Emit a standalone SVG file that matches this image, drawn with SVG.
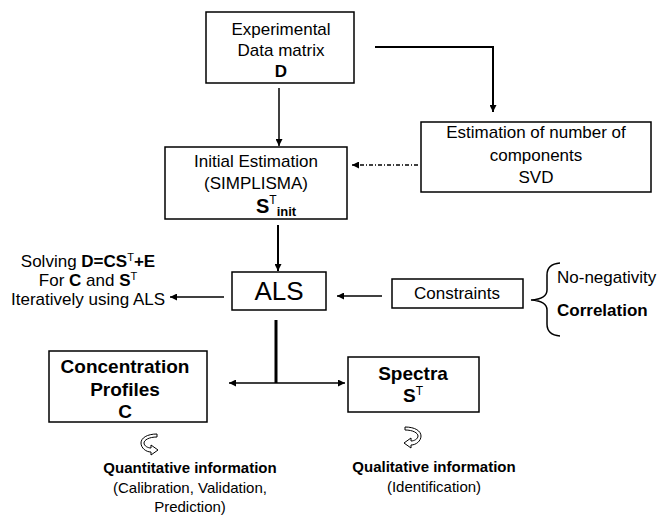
<svg xmlns="http://www.w3.org/2000/svg" width="657" height="516" viewBox="0 0 657 516">
<style>
text{font-family:"Liberation Sans",Arial,sans-serif;font-size:17px;fill:#000;text-anchor:middle}
.b{font-weight:bold}
.l{text-anchor:start}
.box{fill:#fff;stroke:#000;stroke-width:1.5}
.ln{fill:none;stroke:#000;stroke-width:1.5}
.icon{fill:#fff;stroke:#000;stroke-width:1;stroke-linejoin:round}
</style>
<defs>
<marker id="ah" viewBox="0 0 10 10" refX="10" refY="5" markerWidth="8" markerHeight="7" markerUnits="userSpaceOnUse" orient="auto-start-reverse"><path d="M0,0 L10,5 L0,10 Z" fill="#000"/></marker>
<path id="curl" d="M16,0 C6,0 0,4 0,9 C0,14 5,18 10,18 L10,21 L17,16 L10,11 L10,14 C7,14 3,12 3,9 C3,6 8,3 16,3 Z"/>
</defs>
<rect width="657" height="516" fill="#fff"/>

<g id="connectors">
  <line class="ln" x1="279" y1="88" x2="279" y2="146" marker-end="url(#ah)"/>
  <path d="M375,47 H493 V112" fill="none" stroke="#000" stroke-width="2" marker-end="url(#ah)"/>
  <line class="ln" x1="418" y1="165" x2="352" y2="165" stroke-dasharray="4 2 1 2" marker-end="url(#ah)"/>
  <line x1="278" y1="225" x2="278" y2="271" stroke="#000" stroke-width="2" marker-end="url(#ah)"/>
  <line class="ln" x1="224" y1="297" x2="170" y2="297" marker-end="url(#ah)"/>
  <line class="ln" x1="382" y1="296" x2="337" y2="296" marker-end="url(#ah)"/>
  <line x1="276" y1="320" x2="276" y2="383" stroke="#000" stroke-width="3"/>
  <line class="ln" x1="229" y1="383" x2="345" y2="383" marker-start="url(#ah)" marker-end="url(#ah)"/>
</g>

<g id="data-matrix">
  <rect class="box" x="206" y="12" width="148" height="71"/>
  <text x="281" y="35">Experimental</text>
  <text x="281" y="56">Data matrix</text>
  <text x="281" y="77" class="b">D</text>
</g>

<g id="estimation">
  <rect class="box" x="421" y="122" width="230" height="70"/>
  <text x="536" y="138">Estimation of number of</text>
  <text x="536" y="161">components</text>
  <text x="536" y="183">SVD</text>
</g>

<g id="initial">
  <rect class="box" x="165" y="147" width="182" height="72"/>
  <text x="256" y="167">Initial Estimation</text>
  <text x="256" y="189">(SIMPLISMA)</text>
  <text x="256" y="213" class="l" style="font-size:20px;font-weight:bold">S<tspan dy="-9" style="font-size:12px;font-weight:normal">T</tspan><tspan dy="12" style="font-size:13px">init</tspan></text>
</g>

<g id="als">
  <rect class="box" x="232" y="272" width="94" height="38"/>
  <text x="279" y="300" style="font-size:26px">ALS</text>
</g>

<g id="solving">
  <text x="88" y="267">Solving <tspan class="b">D=CS</tspan><tspan dy="-6" style="font-size:11px">T</tspan><tspan dy="6" class="b">+E</tspan></text>
  <text x="88" y="286">For <tspan class="b">C</tspan> and <tspan class="b">S</tspan><tspan dy="-6" style="font-size:11px">T</tspan></text>
  <text x="88" y="305">Iteratively using ALS</text>
</g>

<g id="constraints">
  <rect class="box" x="392" y="279" width="131" height="29"/>
  <text x="457" y="299">Constraints</text>
</g>

<g id="constraint-list">
  <path d="M560,263 Q547,264 547,275 L547,290 Q547,299 531,300 Q547,301 547,310 L547,324 Q547,335 560,336" fill="none" stroke="#000" stroke-width="1.5"/>
  <text x="557" y="283" class="l">No-negativity</text>
  <text x="557" y="316" class="l b">Correlation</text>
</g>

<g id="concentration">
  <rect class="box" x="49" y="351" width="158" height="71"/>
  <text x="125" y="373" class="b" style="font-size:19px">Concentration</text>
  <text x="125" y="396" class="b" style="font-size:19px">Profiles</text>
  <text x="125" y="418" class="b" style="font-size:19px">C</text>
</g>

<g id="spectra">
  <rect class="box" x="348" y="357" width="131" height="55"/>
  <text x="413" y="380" class="b" style="font-size:19px">Spectra</text>
  <text x="413" y="402" class="b" style="font-size:19px">S<tspan dy="-7" style="font-size:12px;font-weight:normal">T</tspan></text>
</g>

<g id="quantitative">
  <use href="#curl" class="icon" transform="translate(141,434)"/>
  <text x="190" y="473" class="b" style="font-size:15px">Quantitative information</text>
  <text x="190" y="493" style="font-size:15px">(Calibration, Validation,</text>
  <text x="190" y="512" style="font-size:15px">Prediction)</text>
</g>

<g id="qualitative">
  <use href="#curl" class="icon" transform="translate(421,427) scale(-1,1)"/>
  <text x="434" y="472" class="b" style="font-size:15px">Qualitative information</text>
  <text x="434" y="492" style="font-size:15px">(Identification)</text>
</g>
</svg>
